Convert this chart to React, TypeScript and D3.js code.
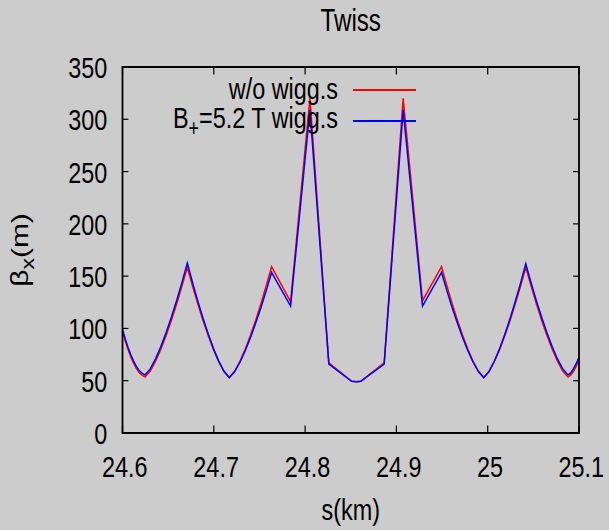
import React from "react";
import * as d3 from "d3";

// Beta function along the ring, s in km, beta_x in m
const sKm = [
  24.6, 24.603, 24.606, 24.609, 24.612, 24.615, 24.618, 24.621, 24.6246,
  24.6304, 24.6362, 24.642, 24.6478, 24.6536, 24.6594, 24.6652, 24.671,
  24.6767, 24.6825, 24.6882, 24.694, 24.6997, 24.7054, 24.7112, 24.7169,
  24.7227, 24.7285, 24.7343, 24.7401, 24.7459, 24.7517, 24.7575, 24.7633,
  24.7841, 24.8053, 24.826, 24.851, 24.856, 24.861, 24.8866, 24.9074, 24.9286,
  24.9494, 24.9552, 24.961, 24.9668, 24.9726, 24.9784, 24.9842, 24.99, 24.9957,
  25.0015, 25.0072, 25.013, 25.0187, 25.0245, 25.0302, 25.036, 25.0417,
  25.0475, 25.0533, 25.0591, 25.0649, 25.0707, 25.0764, 25.0822, 25.088,
  25.091, 25.094, 25.097, 25.1,
];
const betaNoWiggler = [
  97, 88, 80, 73, 67, 62, 58, 55.5, 53.5,
  59.2, 68.6, 80.1, 93.3, 107.9, 123.6, 140.7, 158.5,
  140.6, 123.5, 107.6, 93, 79.7, 68.1, 58.7, 53,
  58.8, 68.2, 79.9, 93.2, 107.9, 123.8, 141, 159,
  125.6, 320, 67, 49.5, 49, 49.5, 67, 320, 126.5,
  159, 141, 123.8, 107.9, 93.2, 79.9, 68.2, 58.8, 53,
  58.7, 68.1, 79.7, 93, 107.6, 123.5, 140.6, 158.5,
  140.7, 123.6, 107.9, 93.3, 80.1, 68.6, 59.2, 53.5,
  55.5, 59, 64, 70,
];
const betaWiggler = [
  99, 90, 82, 75, 69, 64, 60, 57.5, 55.5,
  61.3, 70.9, 82.6, 96.1, 110.9, 127, 144.3, 162.5,
  143.9, 126.1, 109.7, 94.5, 80.7, 68.7, 59, 53,
  58.5, 67.4, 78.5, 91.1, 105.1, 120.1, 136.4, 153.5,
  121.4, 309, 66, 49.5, 49, 49.5, 66, 309, 121.4,
  153.5, 136.4, 120.1, 105.1, 91.1, 78.5, 67.4, 58.5, 53,
  58.9, 68.6, 80.6, 94.2, 109.4, 125.7, 143.3, 161.8,
  143.7, 126.5, 110.6, 95.8, 82.4, 70.8, 61.3, 55.5,
  57.5, 61.5, 66.5, 72.5,
];

const xTicks = [24.6, 24.7, 24.8, 24.9, 25, 25.1];
const xTickLabels = ["24.6", "24.7", "24.8", "24.9", "25", "25.1"];
const yTicks = [0, 50, 100, 150, 200, 250, 300, 350];

const series = [
  { name: "w/o wigg.s", values: betaNoWiggler, color: "#ff0000" },
  { name: "B+=5.2 T wigg.s", values: betaWiggler, color: "#0000ff" },
];

// The whole figure is laid out on a wider canvas and squeezed horizontally
const SX = 0.78;
const WIDTH = 609;
const HEIGHT = 530;

const plotLeft = 122.5 / SX;
const plotRight = 579 / SX;
const plotTop = 67;
const plotBottom = 433;

const FONT = "'Liberation Sans', Arial, Helvetica, sans-serif";
const FS = 30;
const TICK = 7.5;

export default function App() {
  const x = d3.scaleLinear().domain([24.6, 25.1]).range([plotLeft, plotRight]);
  const y = d3.scaleLinear().domain([0, 350]).range([plotBottom, plotTop]);

  const line = (vals: number[]) =>
    d3
      .line<number>()
      .x((_, i) => x(sKm[i]))
      .y((v) => y(v))(vals) as string;

  const legendX = 433.3;
  const legendLineX0 = 452.6;
  const legendLineX1 = 533.3;
  const legendRows = [99, 128];
  const legendLineY = [90, 121];

  return (
    <svg
      width={WIDTH}
      height={HEIGHT}
      style={{ position: "absolute", left: 0, top: 0, display: "block" }}
    >
      <rect x={0} y={0} width={WIDTH} height={HEIGHT} fill="#cccccc" />
      <g transform={`scale(${SX},1)`} fontFamily={FONT} fill="#000">
        {/* title */}
        <text x={(plotLeft + plotRight) / 2} y={31} fontSize={31} textAnchor="middle">
          Twiss
        </text>

        {/* ticks, mirrored on all four sides */}
        {xTicks.map((t) => (
          <g key={"xt" + t}>
            <line x1={x(t)} x2={x(t)} y1={plotBottom} y2={plotBottom - TICK} stroke="#000" strokeWidth={1.2} vectorEffect="non-scaling-stroke" />
            <line x1={x(t)} x2={x(t)} y1={plotTop} y2={plotTop + TICK} stroke="#000" strokeWidth={1.2} vectorEffect="non-scaling-stroke" />
          </g>
        ))}
        {yTicks.map((t) => (
          <g key={"yt" + t}>
            <line x1={plotLeft} x2={plotLeft + TICK} y1={y(t)} y2={y(t)} stroke="#000" strokeWidth={1.2} vectorEffect="non-scaling-stroke" />
            <line x1={plotRight} x2={plotRight - TICK} y1={y(t)} y2={y(t)} stroke="#000" strokeWidth={1.2} vectorEffect="non-scaling-stroke" />
          </g>
        ))}

        {/* tick labels */}
        {xTicks.map((t, i) => (
          <text key={"xl" + t} x={x(t) + 3} y={477} fontSize={FS} textAnchor="middle">
            {xTickLabels[i]}
          </text>
        ))}
        {yTicks.map((t) => (
          <text key={"yl" + t} x={137.5} y={y(t) + 11} fontSize={FS} textAnchor="end">
            {t}
          </text>
        ))}

        {/* axis titles */}
        <text x={(plotLeft + plotRight) / 2} y={520} fontSize={FS} textAnchor="middle">
          s(km)
        </text>
        <text transform={`translate(36,250) rotate(-90)`} fontSize={FS} textAnchor="middle">
          β<tspan fontSize={23} dy={8}>x</tspan>
          <tspan dy={-8}>(m)</tspan>
        </text>

        {/* curves */}
        {series.map((s) => (
          <path
            key={s.name}
            d={line(s.values)}
            fill="none"
            stroke={s.color}
            strokeWidth={1.5}
            strokeLinejoin="miter"
            vectorEffect="non-scaling-stroke"
          />
        ))}

        {/* legend */}
        <text x={legendX} y={legendRows[0]} fontSize={FS} textAnchor="end">
          w/o wigg.s
        </text>
        <text x={legendX} y={legendRows[1]} fontSize={FS} textAnchor="end">
          B<tspan fontSize={23} dy={8}>+</tspan>
          <tspan dy={-8}>=5.2 T wigg.s</tspan>
        </text>
        {series.map((s, i) => (
          <line
            key={"lg" + s.name}
            x1={legendLineX0}
            x2={legendLineX1}
            y1={legendLineY[i]}
            y2={legendLineY[i]}
            stroke={s.color}
            strokeWidth={1.8}
            vectorEffect="non-scaling-stroke"
          />
        ))}

        {/* frame */}
        <rect
          x={plotLeft}
          y={plotTop}
          width={plotRight - plotLeft}
          height={plotBottom - plotTop}
          fill="none"
          stroke="#000"
          strokeWidth={1.8}
          vectorEffect="non-scaling-stroke"
        />
      </g>
    </svg>
  );
}
